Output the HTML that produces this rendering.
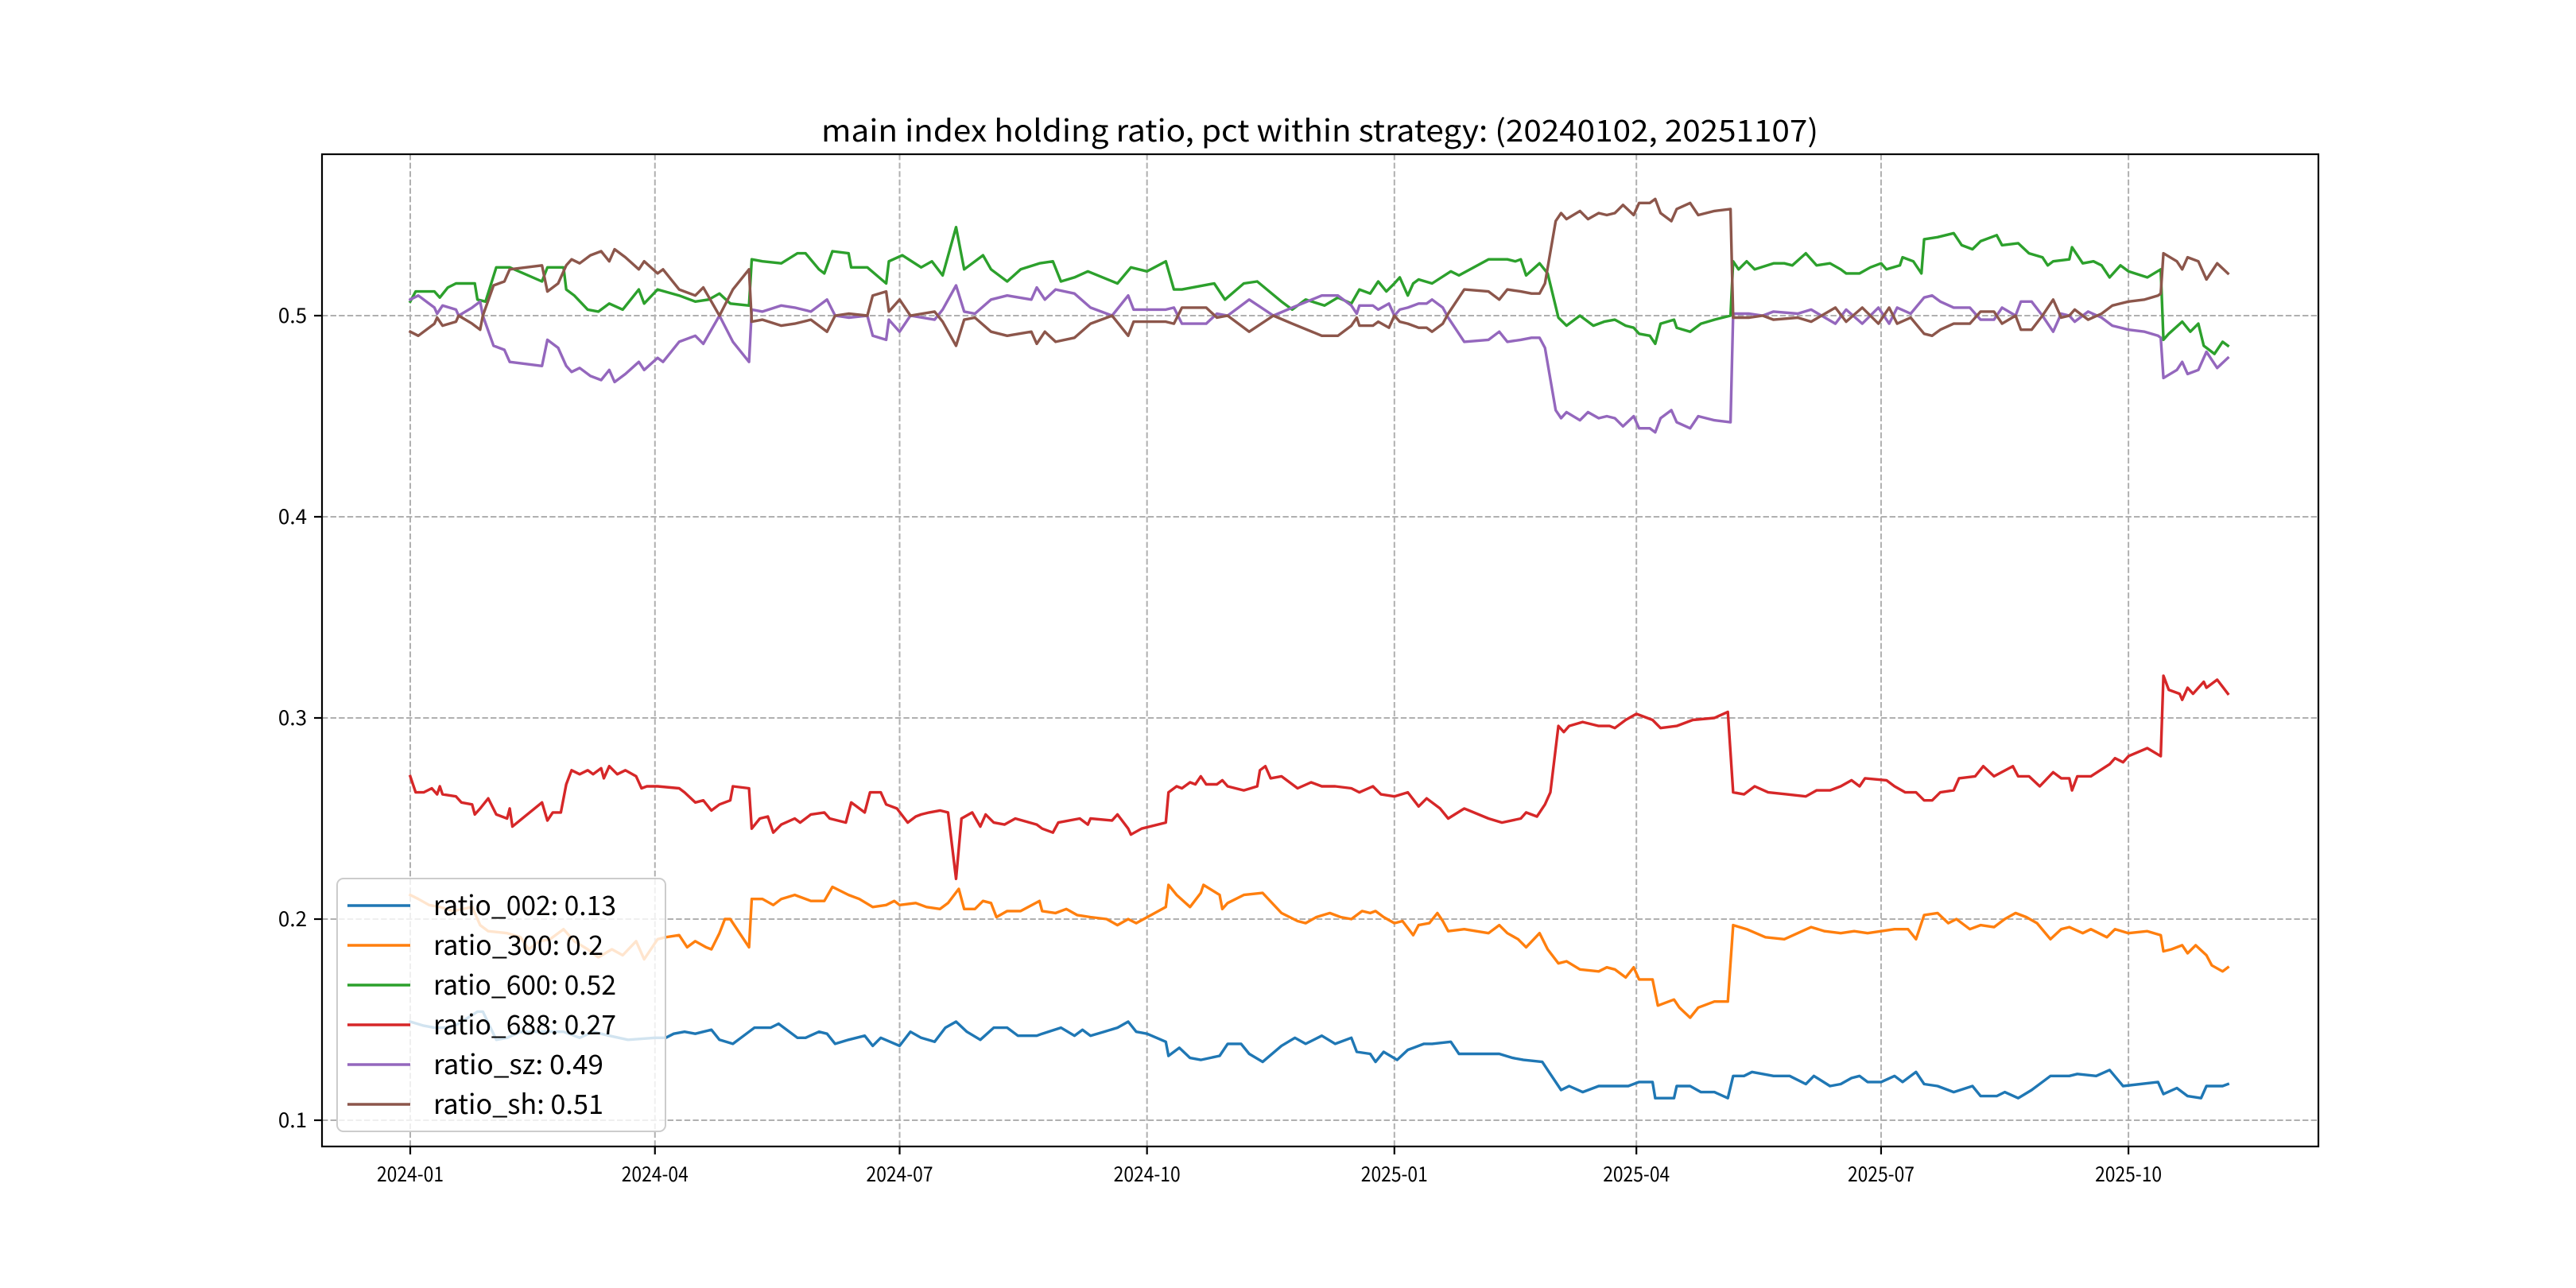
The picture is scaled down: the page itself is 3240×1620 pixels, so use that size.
<!DOCTYPE html>
<html><head><meta charset="utf-8"><style>
html,body{margin:0;padding:0;background:#fff;}
svg{display:block;}
text{font-family:"WenQuanYi Zen Hei","Noto Sans CJK SC","Liberation Mono",monospace;fill:#000;}
</style></head><body>
<svg id="chart" width="3240" height="1620" viewBox="0 0 3240 1620" xmlns="http://www.w3.org/2000/svg">
<rect x="0" y="0" width="3240" height="1620" fill="#fff"/>
<text x="1660" y="178" font-size="38" text-anchor="middle" textLength="1254" lengthAdjust="spacingAndGlyphs">main index holding ratio, pct within strategy: (20240102, 20251107)</text>
<g id="grid"></g>
<g id="series"></g>
<rect x="405" y="194" width="2511" height="1248" fill="none" stroke="#000" stroke-width="2.2"/>
<g id="ticks"></g>
<g id="legend"></g>
</svg>
<script>
// x tick categories (days since 2024-01-01) and labels
const xTickDays = [0, 91, 182, 274, 366, 456, 547, 639];
const xTickLabels = ["2024-01","2024-04","2024-07","2024-10","2025-01","2025-04","2025-07","2025-10"];
const yTickValues = [0.1, 0.2, 0.3, 0.4, 0.5];
const yTickLabels = ["0.1","0.2","0.3","0.4","0.5"];

const days002 = [0,5,9,14,18,25,27,32,36,41,50,57,63,68,74,81,91,95,98,102,106,109,112,115,120,126,128,134,137,140,144,147,152,155,158,163,169,172,175,182,186,190,195,199,203,207,212,217,222,226,233,235,242,247,250,253,258,263,267,270,274,281,282,286,290,294,301,304,309,312,317,324,329,333,339,344,350,352,357,359,362,367,371,377,380,387,390,405,410,414,421,423,428,431,436,442,448,453,457,462,463,470,471,476,480,485,490,492,496,499,507,513,519,522,528,532,536,539,542,547,552,555,560,563,568,574,581,584,590,593,598,603,610,617,620,627,632,637,650,652,657,661,666,668,674,676];
const val002 = [.149,.147,.146,.146,.148,.154,.154,.140,.141,.144,.144,.144,.141,.144,.142,.140,.141,.141,.143,.144,.143,.144,.145,.140,.138,.144,.146,.146,.148,.145,.141,.141,.144,.143,.138,.140,.142,.137,.141,.137,.144,.141,.139,.146,.149,.144,.140,.146,.146,.142,.142,.143,.146,.142,.145,.142,.144,.146,.149,.144,.143,.139,.132,.136,.131,.130,.132,.138,.138,.133,.129,.137,.141,.138,.142,.138,.141,.134,.133,.129,.134,.130,.135,.138,.138,.139,.133,.133,.131,.130,.129,.125,.115,.117,.114,.117,.117,.117,.119,.119,.111,.111,.117,.117,.114,.114,.111,.122,.122,.124,.122,.122,.118,.122,.117,.118,.121,.122,.119,.119,.122,.119,.124,.118,.117,.114,.117,.112,.112,.114,.111,.115,.122,.122,.123,.122,.125,.117,.119,.113,.116,.112,.111,.117,.117,.118];

const days300 = [0,3,7,11,16,23,26,29,36,41,44,48,52,57,61,66,70,75,79,84,87,92,95,100,103,106,110,112,115,117,119,126,127,131,135,138,143,149,154,157,163,167,172,177,180,182,188,192,197,200,204,206,210,213,216,218,222,227,234,235,240,244,248,253,259,263,267,270,281,282,285,290,294,295,301,302,304,310,317,324,330,333,337,342,346,350,354,357,359,362,366,369,373,375,379,382,384,386,392,401,405,408,412,415,420,423,427,430,435,442,445,448,452,455,457,462,464,470,472,476,479,485,490,492,497,504,511,516,521,526,532,537,542,547,552,557,560,563,568,572,575,580,584,589,593,597,601,605,610,614,617,622,625,631,634,639,646,651,652,655,659,661,664,668,670,674,676];
const val300 = [.212,.210,.207,.206,.204,.206,.197,.194,.193,.191,.185,.189,.190,.195,.189,.185,.181,.185,.182,.189,.180,.190,.191,.192,.186,.189,.186,.185,.193,.200,.200,.186,.210,.210,.207,.210,.212,.209,.209,.216,.212,.210,.206,.207,.209,.207,.208,.206,.205,.208,.215,.205,.205,.209,.208,.201,.204,.204,.209,.204,.203,.205,.202,.201,.200,.197,.200,.198,.206,.217,.212,.206,.213,.217,.212,.205,.208,.212,.213,.203,.199,.198,.201,.203,.201,.200,.204,.203,.204,.201,.198,.199,.192,.197,.198,.203,.199,.194,.195,.193,.197,.193,.190,.186,.193,.185,.178,.179,.175,.174,.176,.175,.171,.176,.170,.170,.157,.160,.156,.151,.156,.159,.159,.197,.195,.191,.190,.193,.196,.194,.193,.194,.193,.194,.195,.195,.190,.202,.203,.198,.200,.195,.197,.196,.200,.203,.201,.198,.190,.195,.196,.193,.195,.191,.195,.193,.194,.192,.184,.185,.187,.183,.187,.182,.177,.174,.176];

const days600 = [0,2,9,11,14,17,24,25,28,32,37,49,51,57,58,61,66,70,74,79,85,87,92,100,106,111,115,119,126,127,131,138,144,147,152,154,157,163,164,170,177,178,183,190,194,198,203,206,213,216,222,227,234,239,242,247,252,263,268,274,281,284,287,299,303,310,315,324,328,333,340,345,350,353,357,360,363,366,368,371,373,375,380,387,390,401,408,411,413,415,420,423,427,430,435,440,444,448,452,455,457,461,463,465,470,471,476,480,485,491,492,494,497,500,507,511,514,519,523,528,532,534,539,543,547,549,554,555,559,562,563,568,574,577,581,584,590,592,598,602,607,609,611,617,618,622,626,629,632,636,639,646,651,652,654,659,662,665,667,671,674,676];
const val600 = [.507,.512,.512,.509,.514,.516,.516,.508,.507,.524,.524,.517,.524,.524,.513,.510,.503,.502,.506,.503,.513,.506,.513,.510,.507,.508,.511,.506,.505,.528,.527,.526,.531,.531,.523,.521,.532,.531,.524,.524,.516,.527,.530,.524,.527,.520,.544,.523,.530,.523,.517,.523,.526,.527,.517,.519,.522,.516,.524,.522,.527,.513,.513,.516,.508,.516,.517,.507,.503,.508,.505,.509,.506,.513,.511,.517,.512,.516,.519,.510,.516,.518,.516,.522,.520,.528,.528,.527,.528,.520,.526,.521,.499,.495,.500,.495,.497,.498,.495,.494,.491,.490,.486,.496,.498,.494,.492,.496,.498,.500,.527,.523,.527,.523,.526,.526,.525,.531,.525,.526,.523,.521,.521,.524,.526,.523,.525,.529,.527,.521,.538,.539,.541,.535,.533,.537,.540,.535,.536,.531,.529,.525,.527,.528,.534,.526,.527,.525,.519,.525,.522,.519,.523,.488,.491,.497,.492,.496,.485,.481,.487,.485];

const days688 = [0,2,5,8,10,11,12,17,19,23,24,26,29,32,36,37,38,49,51,53,56,58,60,63,66,68,71,72,74,77,80,84,86,88,92,100,102,106,109,112,115,119,120,126,127,130,133,135,138,143,145,149,154,156,162,164,166,169,171,175,177,181,185,188,190,193,197,200,203,205,209,212,214,217,221,225,233,235,239,241,249,252,253,261,263,267,268,272,281,282,285,287,290,292,294,296,300,302,304,310,315,316,318,320,324,326,330,335,339,344,350,353,358,361,366,371,375,378,383,386,392,401,406,413,415,419,422,424,427,429,431,436,442,446,448,452,456,462,465,471,477,485,490,492,496,500,505,512,519,523,528,532,536,539,541,549,552,556,560,563,566,569,574,576,582,585,589,596,598,602,606,611,614,617,618,620,625,632,634,637,639,646,651,652,654,658,659,661,663,667,668,672,676];
const val688 = [.271,.263,.263,.265,.262,.266,.262,.261,.258,.257,.252,.255,.260,.252,.250,.255,.246,.258,.249,.253,.253,.267,.274,.272,.274,.272,.275,.270,.276,.272,.274,.271,.265,.266,.266,.265,.263,.258,.259,.254,.257,.259,.266,.265,.245,.250,.251,.243,.247,.250,.248,.252,.253,.250,.248,.258,.256,.253,.263,.263,.257,.255,.248,.251,.252,.253,.254,.253,.220,.250,.253,.246,.252,.248,.247,.250,.247,.245,.243,.248,.250,.247,.250,.249,.252,.245,.242,.245,.248,.263,.266,.265,.268,.267,.271,.267,.267,.269,.266,.264,.266,.274,.276,.270,.271,.269,.265,.268,.266,.266,.265,.263,.266,.262,.261,.263,.256,.260,.255,.250,.255,.250,.248,.250,.253,.251,.257,.263,.296,.293,.296,.298,.296,.296,.295,.299,.302,.299,.295,.296,.299,.300,.303,.263,.262,.266,.263,.262,.261,.264,.264,.266,.269,.266,.270,.269,.266,.263,.263,.259,.259,.263,.264,.270,.271,.276,.271,.276,.271,.271,.266,.273,.270,.270,.264,.271,.271,.277,.280,.278,.281,.285,.281,.321,.314,.312,.309,.315,.312,.318,.315,.319,.312];

const daysSz = [0,3,9,10,12,17,18,23,26,27,31,35,37,49,51,55,58,60,63,67,71,74,76,80,85,87,92,94,100,106,109,115,120,126,127,131,138,143,149,155,158,163,170,172,177,178,182,186,195,198,203,206,210,216,222,231,233,236,240,247,253,261,267,269,281,284,287,296,300,304,312,321,328,339,345,350,352,353,358,360,364,366,368,371,375,378,380,384,386,390,392,401,405,408,413,417,420,422,426,428,430,435,438,442,445,448,451,455,457,461,463,465,469,471,476,479,485,491,492,498,503,507,516,521,530,534,540,546,550,553,558,563,566,569,574,580,584,589,592,597,599,603,607,611,614,617,619,624,629,633,639,645,650,651,652,657,659,661,665,668,672,676];
const valSz = [.508,.510,.504,.501,.505,.503,.500,.504,.507,.500,.485,.483,.477,.475,.488,.484,.475,.472,.474,.470,.468,.473,.467,.471,.477,.473,.479,.477,.487,.490,.486,.500,.487,.477,.503,.502,.505,.504,.502,.508,.500,.499,.500,.490,.488,.498,.492,.500,.498,.503,.515,.502,.501,.508,.510,.508,.514,.508,.513,.511,.504,.500,.510,.503,.503,.504,.496,.496,.501,.500,.508,.500,.504,.510,.510,.505,.501,.505,.505,.503,.506,.500,.503,.504,.506,.506,.508,.504,.499,.491,.487,.488,.492,.487,.488,.489,.489,.484,.453,.449,.452,.448,.452,.449,.450,.449,.445,.450,.444,.444,.442,.449,.453,.447,.444,.450,.448,.447,.501,.501,.500,.502,.501,.503,.496,.503,.496,.504,.496,.504,.501,.509,.510,.507,.504,.504,.498,.498,.504,.500,.507,.507,.500,.492,.501,.500,.497,.502,.499,.495,.493,.492,.490,.489,.469,.473,.477,.471,.473,.482,.474,.479];
const daysSh = daysSz;
const valSh = [.492,.490,.496,.499,.495,.497,.500,.496,.493,.500,.515,.517,.523,.525,.512,.516,.525,.528,.526,.530,.532,.527,.533,.529,.523,.527,.521,.523,.513,.510,.514,.500,.513,.523,.497,.498,.495,.496,.498,.492,.500,.501,.500,.510,.512,.502,.508,.500,.502,.497,.485,.498,.499,.492,.490,.492,.486,.492,.487,.489,.496,.500,.490,.497,.497,.496,.504,.504,.499,.500,.492,.500,.496,.490,.490,.495,.499,.495,.495,.497,.494,.500,.497,.496,.494,.494,.492,.496,.501,.509,.513,.512,.508,.513,.512,.511,.511,.516,.547,.551,.548,.552,.548,.551,.550,.551,.555,.550,.556,.556,.558,.551,.547,.553,.556,.550,.552,.553,.499,.499,.500,.498,.499,.497,.504,.497,.504,.496,.504,.496,.499,.491,.490,.493,.496,.496,.502,.502,.496,.500,.493,.493,.500,.508,.499,.500,.503,.498,.501,.505,.507,.508,.510,.511,.531,.527,.523,.529,.527,.518,.526,.521];

const legendLabels = ["ratio_002: 0.13","ratio_300: 0.2","ratio_600: 0.52","ratio_688: 0.27","ratio_sz: 0.49","ratio_sh: 0.51"];

const NS = "http://www.w3.org/2000/svg";
const X0 = 516, PXD = 3.382;
function xs(d){ return X0 + d * PXD; }
function ys(v){ return 1409 - (v - 0.1) * 2530; }
function mk(tag, attrs, parent){ const e = document.createElementNS(NS, tag); for (const k in attrs) e.setAttribute(k, attrs[k]); parent.appendChild(e); return e; }

const grid = document.getElementById('grid');
const ticks = document.getElementById('ticks');
xTickDays.forEach((d, i) => {
  const x = xs(d);
  const g = mk('line', {x1:x, y1:194, x2:x, y2:1442, stroke:'#b0b0b0', 'stroke-width':2, 'stroke-dasharray':'7.4,3.2'}, grid);
  
  
  const t = mk('line', {x1:x, y1:1442, x2:x, y2:1452, stroke:'#000', 'stroke-width':2.2}, ticks);
  
  
  const lb = mk('text', {x:x, y:1486, 'font-size':26, 'text-anchor':'middle', textLength:84, lengthAdjust:'spacingAndGlyphs'}, ticks);
  lb.textContent = xTickLabels[i];
  
  
});
yTickValues.forEach((v, i) => {
  const y = ys(v);
  const g = mk('line', {x1:405, y1:y, x2:2916, y2:y, stroke:'#b0b0b0', 'stroke-width':2, 'stroke-dasharray':'7.4,3.2'}, grid);
  
  
  const t = mk('line', {x1:395, y1:y, x2:405, y2:y, stroke:'#000', 'stroke-width':2.2}, ticks);
  
  
  const lb = mk('text', {x:386, y:y + 9, 'font-size':26, 'text-anchor':'end'}, ticks);
  lb.textContent = yTickLabels[i];
  
  
});

const seriesDefs = [
  [days002, val002, '#1f77b4', 'line-ratio-002'],
  [days300, val300, '#ff7f0e', 'line-ratio-300'],
  [days600, val600, '#2ca02c', 'line-ratio-600'],
  [days688, val688, '#d62728', 'line-ratio-688'],
  [daysSz, valSz, '#9467bd', 'line-ratio-sz'],
  [daysSh, valSh, '#8c564b', 'line-ratio-sh']
];
const sg = document.getElementById('series');
seriesDefs.forEach(s => {
  const n = Math.min(s[0].length, s[1].length);
  let d = '';
  for (let i = 0; i < n; i++) d += (i ? 'L' : 'M') + xs(s[0][i]).toFixed(1) + ',' + ys(s[1][i]).toFixed(1);
  const p = mk('path', {d:d, fill:'none', stroke:s[2], 'stroke-width':3.4, 'stroke-linejoin':'round', 'stroke-linecap':'square'}, sg);
  
  
});

const lg = document.getElementById('legend');
const box = mk('rect', {x:424, y:1105, width:413, height:318, rx:8, fill:'#fff', 'fill-opacity':0.8, stroke:'#cccccc', 'stroke-width':2}, lg);


legendLabels.forEach((lab, i) => {
  const y = 1139 + i * 50;
  const ln = mk('line', {x1:437, y1:y, x2:516, y2:y, stroke:seriesDefs[i][2], 'stroke-width':3.4}, lg);
  
  
  const t = mk('text', {x:545, y:y + 12, 'font-size':34, textLength:(lab.length * 15.3).toFixed(0), lengthAdjust:'spacingAndGlyphs'}, lg);
  t.textContent = lab;
  
  
});
</script>
</body></html>
